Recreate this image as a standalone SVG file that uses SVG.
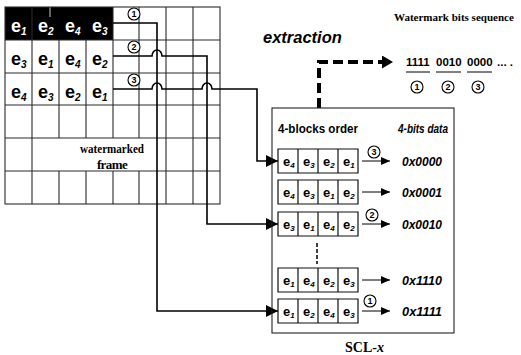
<svg xmlns="http://www.w3.org/2000/svg" width="521" height="355" viewBox="0 0 521 355">
<style>
.grid{stroke:#2a2a2a;stroke-width:1.1;fill:none}
.ge{font-family:"Liberation Sans",Arial,sans-serif;font-weight:bold;font-size:18px;fill:#000}
.ge .s{font-size:10px;font-style:italic}
.wh{fill:#fff}
.re{font-family:"Liberation Sans",Arial,sans-serif;font-weight:bold;font-size:13px;fill:#000}
.re .s{font-size:8px;font-style:italic}
.cell{fill:#fff;stroke:#111;stroke-width:1.2}
.conn{fill:none;stroke:#000;stroke-width:1.6}
.thin{fill:none;stroke:#000;stroke-width:1}
.circ{fill:#fff;stroke:#000;stroke-width:1.1}
.cn{font-family:"Liberation Sans",Arial,sans-serif;font-weight:bold;font-size:9px;text-anchor:middle;fill:#000}
.hex{font-family:"Liberation Sans",Arial,sans-serif;font-weight:bold;font-style:italic;font-size:13px;fill:#000}
.hdr{font-family:"Liberation Sans",Arial,sans-serif;font-weight:bold;font-size:12px;fill:#000}
.seq{font-family:"Liberation Sans",Arial,sans-serif;font-weight:bold;font-size:11.5px;fill:#000}
.serif{font-family:"Liberation Serif","Times New Roman",serif;fill:#000}
</style>
<defs>
<marker id="big" markerUnits="userSpaceOnUse" markerWidth="13" markerHeight="12" refX="12" refY="6" orient="auto">
<path d="M0,0 L12,6 L0,12 z" fill="#000"/>
</marker>
<marker id="small" markerUnits="userSpaceOnUse" markerWidth="9" markerHeight="8" refX="9" refY="4" orient="auto">
<path d="M0,0 L9,4 L0,8 z" fill="#000"/>
</marker>
<marker id="dash" markerUnits="userSpaceOnUse" markerWidth="12" markerHeight="13" refX="11" refY="6.5" orient="auto">
<path d="M0,0 L11,6.5 L0,13 z" fill="#000"/>
</marker>
</defs>
<rect width="521" height="355" fill="#fff"/>

<g id="frame">
<rect x="5" y="7" width="108" height="33" fill="#000"/>
<line x1="50" y1="7" x2="50" y2="17" stroke="#fff" stroke-width="0.8"/>
<rect class="grid" x="5" y="7" width="215" height="197"/>
<path class="grid" d="M5,40H220M5,73H220M5,105H220M5,138H220M5,171H220
M32,40V204M59,40V138M59,171V204M86,40V138M86,171V204M113,7V138M113,171V204M139,7V138M139,171V204M166,7V204M193,7V204
M32,7V40"/>
<text class="serif" x="80" y="153" font-size="13" font-weight="bold" textLength="64" lengthAdjust="spacingAndGlyphs">watermarked</text>
<text class="serif" x="112" y="169" font-size="13" font-weight="bold" text-anchor="middle" letter-spacing="-0.6">frame</text>
<text class="ge wh" x="11" y="32">e<tspan class="s" dy="3">1</tspan></text>
<text class="ge wh" x="38" y="32">e<tspan class="s" dy="3">2</tspan></text>
<text class="ge wh" x="65" y="32">e<tspan class="s" dy="3">4</tspan></text>
<text class="ge wh" x="92" y="32">e<tspan class="s" dy="3">3</tspan></text>
<text class="ge" x="11" y="65">e<tspan class="s" dy="3">3</tspan></text>
<text class="ge" x="38" y="65">e<tspan class="s" dy="3">1</tspan></text>
<text class="ge" x="65" y="65">e<tspan class="s" dy="3">4</tspan></text>
<text class="ge" x="92" y="65">e<tspan class="s" dy="3">2</tspan></text>
<text class="ge" x="11" y="98">e<tspan class="s" dy="3">4</tspan></text>
<text class="ge" x="38" y="98">e<tspan class="s" dy="3">3</tspan></text>
<text class="ge" x="65" y="98">e<tspan class="s" dy="3">2</tspan></text>
<text class="ge" x="92" y="98">e<tspan class="s" dy="3">1</tspan></text>
</g>

<g id="connectors">
<path class="conn" d="M113,23H157V311H278" marker-end="url(#big)"/>
<path class="conn" d="M113,56H152A5,6 0 0 1 162,56H207V224H278" marker-end="url(#big)"/>
<path class="conn" d="M113,89H152A5,6 0 0 1 162,89H202A5,6 0 0 1 212,89H257V161H278" marker-end="url(#big)"/>
<path d="M319,108V62H393" fill="none" stroke="#000" stroke-width="4" stroke-dasharray="10,5" marker-end="url(#dash)"/>
<path class="thin" d="M362,161H390" marker-end="url(#small)"/>
<path class="thin" d="M362,192H390" marker-end="url(#small)"/>
<path class="thin" d="M362,224H390" marker-end="url(#small)"/>
<path class="thin" d="M362,280H390" marker-end="url(#small)"/>
<path class="thin" d="M362,311H390" marker-end="url(#small)"/>
<line x1="317" y1="243" x2="317" y2="264" stroke="#000" stroke-width="1.5" stroke-dasharray="4,2"/>
</g>

<g id="labels">
<circle class="circ" cx="134" cy="14" r="6"/><text class="cn" x="134" y="17.3">1</text>
<circle class="circ" cx="134" cy="47" r="6"/><text class="cn" x="134" y="50.3">2</text>
<circle class="circ" cx="134" cy="80" r="6"/><text class="cn" x="134" y="83.3">3</text>
<text x="263" y="43" font-family="Liberation Sans,Arial,sans-serif" font-weight="bold" font-style="italic" font-size="16.5">extraction</text>
</g>

<g id="sequence">
<text class="serif" x="394" y="21" font-size="11" font-weight="bold">Watermark bits sequence</text>
<text class="seq" x="406" y="66">1111</text>
<text class="seq" x="436" y="66">0010</text>
<text class="seq" x="467" y="66">0000</text>
<text class="seq" x="497" y="66">... .</text>
<path class="thin" d="M406,72H430M436,72H461M467,72H492"/>
<circle class="circ" cx="417" cy="87" r="6"/><text class="cn" x="417" y="90.3">1</text>
<circle class="circ" cx="448" cy="87" r="6"/><text class="cn" x="448" y="90.3">2</text>
<circle class="circ" cx="478" cy="87" r="6"/><text class="cn" x="478" y="90.3">3</text>
</g>

<g id="scl">
<rect x="272" y="108" width="182" height="225" fill="none" stroke="#222" stroke-width="1.1"/>
<text class="hdr" x="278" y="133" textLength="80" lengthAdjust="spacingAndGlyphs">4-blocks order</text>
<text class="hex" x="398" y="133" font-size="12" textLength="50" lengthAdjust="spacingAndGlyphs">4-bits data</text>
<text class="serif" x="345" y="352" font-size="14" font-weight="bold">SCL-<tspan font-style="italic">x</tspan></text>
</g>

<g id="row1">
<path class="cell" d="M278,149h80v24h-80z M298,149v24M318,149v24M338,149v24"/>
<text class="re" x="283" y="166">e<tspan class="s" dy="2">4</tspan></text>
<text class="re" x="303" y="166">e<tspan class="s" dy="2">3</tspan></text>
<text class="re" x="323" y="166">e<tspan class="s" dy="2">2</tspan></text>
<text class="re" x="343" y="166">e<tspan class="s" dy="2">1</tspan></text>
<circle class="circ" cx="374" cy="152" r="6"/><text class="cn" x="374" y="155.3">3</text>
<text class="hex" x="402" y="166" textLength="40" lengthAdjust="spacingAndGlyphs">0x0000</text>
</g>
<g id="row2">
<path class="cell" d="M278,180h80v24h-80z M298,180v24M318,180v24M338,180v24"/>
<text class="re" x="283" y="197">e<tspan class="s" dy="2">4</tspan></text>
<text class="re" x="303" y="197">e<tspan class="s" dy="2">3</tspan></text>
<text class="re" x="323" y="197">e<tspan class="s" dy="2">1</tspan></text>
<text class="re" x="343" y="197">e<tspan class="s" dy="2">2</tspan></text>
<text class="hex" x="402" y="197" textLength="40" lengthAdjust="spacingAndGlyphs">0x0001</text>
</g>
<g id="row3">
<path class="cell" d="M278,212h80v24h-80z M298,212v24M318,212v24M338,212v24"/>
<text class="re" x="283" y="229">e<tspan class="s" dy="2">3</tspan></text>
<text class="re" x="303" y="229">e<tspan class="s" dy="2">1</tspan></text>
<text class="re" x="323" y="229">e<tspan class="s" dy="2">4</tspan></text>
<text class="re" x="343" y="229">e<tspan class="s" dy="2">2</tspan></text>
<circle class="circ" cx="372" cy="215" r="6"/><text class="cn" x="372" y="218.3">2</text>
<text class="hex" x="402" y="229" textLength="40" lengthAdjust="spacingAndGlyphs">0x0010</text>
</g>
<g id="row4">
<path class="cell" d="M278,268h80v24h-80z M298,268v24M318,268v24M338,268v24"/>
<text class="re" x="283" y="285">e<tspan class="s" dy="2">1</tspan></text>
<text class="re" x="303" y="285">e<tspan class="s" dy="2">4</tspan></text>
<text class="re" x="323" y="285">e<tspan class="s" dy="2">2</tspan></text>
<text class="re" x="343" y="285">e<tspan class="s" dy="2">3</tspan></text>
<text class="hex" x="402" y="285" textLength="40" lengthAdjust="spacingAndGlyphs">0x1110</text>
</g>
<g id="row5">
<path class="cell" d="M278,299h80v24h-80z M298,299v24M318,299v24M338,299v24"/>
<text class="re" x="283" y="316">e<tspan class="s" dy="2">1</tspan></text>
<text class="re" x="303" y="316">e<tspan class="s" dy="2">2</tspan></text>
<text class="re" x="323" y="316">e<tspan class="s" dy="2">4</tspan></text>
<text class="re" x="343" y="316">e<tspan class="s" dy="2">3</tspan></text>
<circle class="circ" cx="370" cy="301" r="6"/><text class="cn" x="370" y="304.3">1</text>
<text class="hex" x="402" y="316" textLength="40" lengthAdjust="spacingAndGlyphs">0x1111</text>
</g>
</svg>
